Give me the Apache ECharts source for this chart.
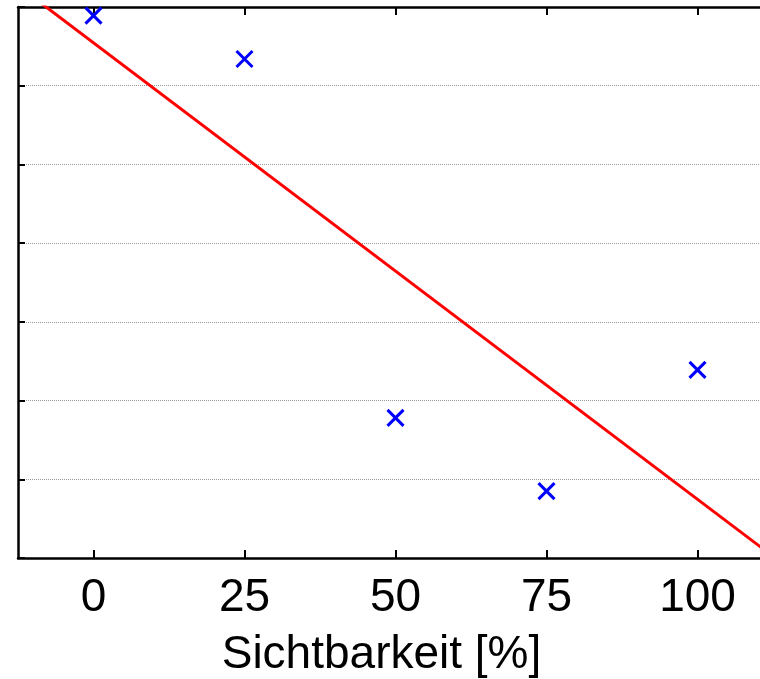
<!DOCTYPE html>
<html><head><meta charset="utf-8">
<script src="https://cdn.jsdelivr.net/npm/echarts@6/dist/echarts.min.js"></script>
<style>html,body{margin:0;padding:0;overflow:hidden;background:#fff;width:760px;height:679px}#c{width:800px;height:679px}</style>
</head><body><div id="c"></div>
<script>
var xTicks = [0, 25, 50, 75, 100];
var visibility = [0, 25, 50, 75, 100];
var measured = [6.89, 6.34, 1.78, 0.85, 2.39];
var fitX = [-12.5, 112.5];
var fitY = [7.27, 0.02];

var pts = visibility.map(function (v, i) { return [v, measured[i]]; });
var fit = fitX.map(function (v, i) { return [v, fitY[i]]; });
var font = 'Liberation Sans, Arial, Helvetica, sans-serif';
var chart = echarts.init(document.getElementById('c'), null, {renderer: 'canvas'});
chart.setOption({
  animation: false,
  grid: {left: 18, top: 7, width: 755, bottom: 121, containLabel: false, outerBoundsMode: 'none'},
  xAxis: [{
    type: 'value', min: -12.5, max: 112.5, position: 'bottom',
    name: 'Sichtbarkeit [%]', nameLocation: 'middle', nameGap: 74,
    nameTextStyle: {fontFamily: font, fontSize: 46, color: '#000', padding: [0, 28, 0, 0]},
    axisLine: {onZero: false, lineStyle: {color: '#000', width: 2.5}},
    axisTick: {inside: true, length: 8, customValues: xTicks, lineStyle: {color: '#000', width: 2}},
    axisLabel: {customValues: xTicks, margin: 17, fontFamily: font, fontSize: 46, color: '#000'},
    splitLine: {show: false}
  }, {
    type: 'value', min: -12.5, max: 112.5, position: 'top',
    axisLine: {onZero: false, lineStyle: {color: '#000', width: 2.5}},
    axisTick: {inside: true, length: 8, customValues: xTicks, lineStyle: {color: '#000', width: 2}},
    axisLabel: {show: false},
    splitLine: {show: false}
  }],
  yAxis: [{
    type: 'value', min: 0, max: 7, interval: 1,
    axisLine: {show: true, onZero: false, lineStyle: {color: '#000', width: 2.5}},
    axisTick: {show: true, inside: true, length: 7, lineStyle: {color: '#000', width: 2}},
    axisLabel: {show: false},
    splitLine: {show: true, lineStyle: {color: '#999', width: 1, type: [1, 1]}}
  }],
  series: [{
    type: 'line', data: fit, symbol: 'none', clip: true,
    lineStyle: {color: '#ff0000', width: 3}, z: 3
  }, {
    type: 'scatter', data: pts,
    symbol: 'path://M0,0L10,10M10,0L0,10', symbolSize: 16,
    itemStyle: {color: 'none', borderColor: '#0000ff', borderWidth: 3, opacity: 1},
    z: 4
  }]
});
</script></body></html>
